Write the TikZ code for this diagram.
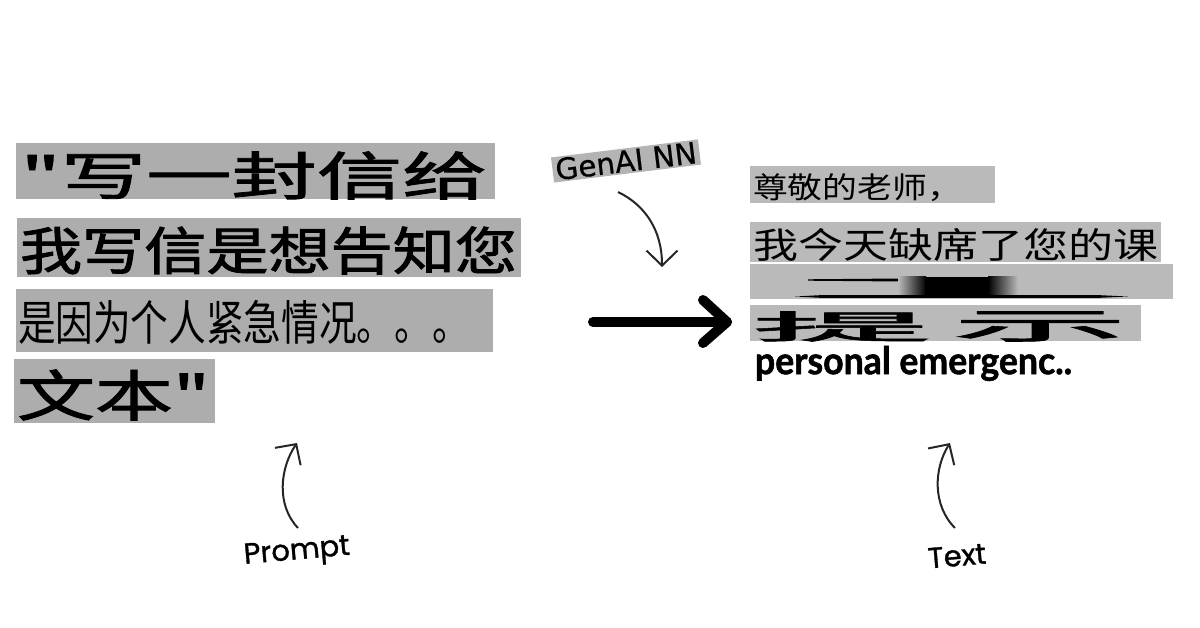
\documentclass[tikz,border=0pt]{standalone}
\usepackage{fontspec}
\usepackage{graphicx}
\newfontfamily\cjk{Noto Sans CJK SC}
\newfontfamily\cjkb{Noto Sans CJK SC}[FakeBold=1.6]
\newfontfamily\hand{Poppins}[FakeBold=1.2]
\newfontfamily\genaifont{DejaVu Sans}[FakeBold=0.6]
\newfontfamily\latofont{Lato}[FakeBold=1.5]
\usetikzlibrary{arrows.meta}
\definecolor{grayL}{RGB}{173,173,173}
\definecolor{grayR}{RGB}{186,186,186}
\definecolor{grayG}{RGB}{180,180,180}
\newcommand{\fitto}[3]{\resizebox*{#1pt}{#2pt}{#3}}
\begin{document}
\begin{tikzpicture}[x=1pt,y=-1pt,
  txt/.style={inner sep=0pt, outer sep=0pt, anchor=center},
  thinarrow/.style={line width=2pt, draw=black!85, -{Straight Barb[length=15pt,width=31pt,line width=2pt]}},
  bigline/.style={line width=10pt, line cap=round, line join=round}]
\useasboundingbox (0,0) rectangle (1200,628);
% ---------- left boxes ----------
\fill[grayL] (16,143) rectangle (495,199);
\fill[grayL] (17,218) rectangle (521,277);
\fill[grayL] (16,289) rectangle (493,352);
\fill[grayL] (14,359) rectangle (215,423);
\node[txt] (l1) at (254,175.5) {\fitto{467}{48}{\cjkb "写一封信给}};
\node[txt] (l2) at (268.5,250.5) {\fitto{497}{48}{\cjkb 我写信是想告知您}};
\node[txt] (l3) at (244,322) {\fitto{452}{44}{\cjk 是因为个人紧急情况。。。}};
\node[txt] (l4) at (113.5,395) {\fitto{193}{51}{\cjkb 文本"}};
% ---------- right boxes ----------
\fill[grayR] (750,166) rectangle (995,203);
\fill[grayR] (750,222) rectangle (1161,262);
\fill[grayR] (750,264) rectangle (1173,299);
\fill[grayR] (750,305) rectangle (1141,341);
\node[txt] (r1) at (857.5,187.5) {\fitto{209}{28}{\cjk 尊敬的老师，}};
\node[txt] (r2) at (955.5,245) {\fitto{405}{33}{\cjk 我今天缺席了您的课}};
% blurred row
\fill[black] (808,279.3) -- (925,278.3) -- (925,281.7) -- (808,280.7) -- cycle;
\shade[left color=grayR, right color=black] (898,277) rectangle (926,295);
\fill[black] (925,277) rectangle (989,295);
\shade[left color=black, right color=grayR] (988,277) rectangle (1018,295);
\fill[black] (795,296.5) -- (820,295.2) -- (1100,295.2) -- (1128,296.5) -- (1100,297.8) -- (820,297.8) -- cycle;
\node[txt] (r4a) at (842,326.5) {\fitto{180}{30}{\cjkb 提}};
\node[txt] (r4b) at (1040,326.5) {\fitto{176}{30}{\cjkb 示}};
\node[txt, anchor=north west] (pe) at (755,346) {\resizebox*{317pt}{35pt}{\latofont\bfseries\fontsize{28}{30}\selectfont personal emergenc..}};
% ---------- GenAI label ----------
\node[fill=grayG, rotate=7, inner xsep=3pt, inner ysep=1.5pt] (genai) at (626,161)
  {\resizebox{142pt}{!}{\genaifont GenAI~NN}};
\coordinate (gstart) at (618,192);
\coordinate (gtip) at (662,267);
\draw[thinarrow] (gstart) .. controls (645,205) and (662,230) .. (gtip);
% ---------- big arrow ----------
\coordinate (bs) at (593,322);
\coordinate (bt) at (727,322);
\coordinate (bu) at (703,300);
\coordinate (bd) at (703,343);
\draw[bigline] (bs) -- (bt);
\draw[bigline] (bu) -- (bt) -- (bd);
% ---------- Prompt ----------
\node[txt, rotate=5] (prompt) at (297,553) {\hand\fontsize{29}{32}\selectfont Prompt};
\coordinate (pstart) at (298,528);
\coordinate (ptip) at (297,443);
\draw[thinarrow] (pstart) .. controls (276,505) and (280,468) .. (ptip);
% ---------- Text ----------
\node[txt, rotate=5] (textlbl) at (957,556) {\hand\fontsize{29}{32}\selectfont Text};
\coordinate (tstart) at (955,528);
\coordinate (ttip) at (950,443);
\draw[thinarrow] (tstart) .. controls (932,505) and (934,468) .. (ttip);
\end{tikzpicture}
\end{document}
